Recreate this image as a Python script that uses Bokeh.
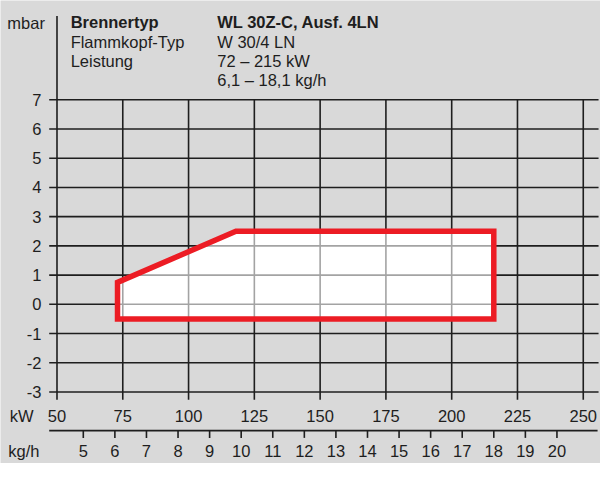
import numpy as np
from bokeh.plotting import figure
from bokeh.models import Range1d
from bokeh.core.properties import value
from bokeh.embed import file_html
from bokeh.resources import INLINE

# ---- data ----
kw_ticks = [50, 75, 100, 125, 150, 175, 200, 225, 250]
mbar_ticks = [-3, -2, -1, 0, 1, 2, 3, 4, 5, 6, 7]
kgh_ticks = [5, 6, 7, 8, 9, 10, 11, 12, 13, 14, 15, 16, 17, 18, 19, 20]
kw_per_kgh = 12.0
field_kw = [73, 73, 118, 216, 216]
field_mbar = [-0.5, 0.75, 2.5, 2.5, -0.5]
header_left = ["Brennertyp", "Flammkopf-Typ", "Leistung", ""]
header_right = ["WL 30Z-C, Ausf. 4LN", "W 30/4 LN", "72 – 215 kW", "6,1 – 18,1 kg/h"]

# ---- layout helpers (reference px -> data) ----
PXK = 2.7015   # px per kW (reference scale)
PXM = 30.23    # px per mbar (reference scale)
def kx(px):
    return 50 + (px - 58) / PXK
def my(py):
    return 7 - (py - 102.7) / PXM

W, H = 600, 463
p = figure(width=W, height=H, output_backend="svg", toolbar_location=None,
           x_range=Range1d(kx(0), kx(616)), y_range=Range1d(my(479), my(0)),
           min_border=0, min_border_left=0, min_border_right=0,
           min_border_top=0, min_border_bottom=0)
p.axis.visible = False
p.grid.visible = False
p.outline_line_color = None
BG = "#d9d9d9"
p.background_fill_color = BG
p.border_fill_color = BG

DARK = "#1e1e1e"
FONT = value("Liberation Sans")
FS = "16.5px"
TXT = dict(text_font=FONT, text_font_size=FS, text_color=DARK, text_baseline="middle")

# horizontal grid lines (with left tick stubs)
p.segment(x0=[kx(50)] * len(mbar_ticks), y0=mbar_ticks,
          x1=[kx(614)] * len(mbar_ticks), y1=mbar_ticks,
          line_color=DARK, line_width=1.6)
# vertical grid lines (with bottom ticks)
vt = kw_ticks[1:]
p.segment(x0=vt, y0=[7] * len(vt), x1=vt, y1=[my(413)] * len(vt),
          line_color=DARK, line_width=1.6)
# left axis line
p.segment(x0=[50], y0=[my(16)], x1=[50], y1=[my(413)], line_color=DARK, line_width=1.6)

# working field
p.patch(field_kw, field_mbar, fill_color="white", line_color=None)
# light grid inside field
top_x = [field_kw[1], field_kw[2], field_kw[3]]
top_y = [field_mbar[1], field_mbar[2], field_mbar[3]]
ivx = [k for k in kw_ticks if field_kw[0] < k < field_kw[3]]
ivtop = [float(np.interp(k, top_x, top_y)) for k in ivx]
p.segment(x0=ivx, y0=[field_mbar[0]] * len(ivx), x1=ivx, y1=ivtop,
          line_color="#a3a3a3", line_width=1.6)
ihy = [m for m in mbar_ticks if field_mbar[0] < m < field_mbar[2]]
ihx0 = [float(np.interp(m, top_y[:2], top_x[:2])) if m > field_mbar[1] else field_kw[0] for m in ihy]
p.segment(x0=ihx0, y0=ihy, x1=[field_kw[3]] * len(ihy), y1=ihy,
          line_color="#a3a3a3", line_width=1.6)
p.patch(field_kw, field_mbar, fill_color=None, line_color="#ec1c24",
        line_width=5.5, line_join="miter")

# y tick labels
p.text(x=[kx(42)] * len(mbar_ticks), y=mbar_ticks, text=[str(m) for m in mbar_ticks],
       text_align="right", **TXT)
# kW tick labels
p.text(x=kw_ticks, y=[my(430)] * len(kw_ticks), text=[str(k) for k in kw_ticks],
       text_align="center", **TXT)
p.text(x=[kx(34)], y=[my(430)], text=["kW"], text_align="right", **TXT)

# kg/h axis
kg_x = [k * kw_per_kgh for k in kgh_ticks]
p.segment(x0=[kx(50)], y0=[my(445)], x1=[kx(613)], y1=[my(445)], line_color=DARK, line_width=1.6)
p.segment(x0=kg_x, y0=[my(445)] * len(kg_x), x1=kg_x, y1=[my(452.5)] * len(kg_x),
          line_color=DARK, line_width=1.6)
p.text(x=kg_x, y=[my(466.5)] * len(kg_x), text=[str(k) for k in kgh_ticks],
       text_align="center", **TXT)
p.text(x=[kx(40)], y=[my(466.5)], text=["kg/h"], text_align="right", **TXT)

# header
p.text(x=[kx(7)], y=[my(23)], text=["mbar"], text_align="left", **TXT)
base_y = [my(22.5 + 20 * i) for i in range(4)]
styles = ["bold", "normal", "normal", "normal"]
for i in range(4):
    if header_left[i]:
        p.text(x=[kx(72)], y=[base_y[i]], text=[header_left[i]], text_align="left",
               text_font_style=styles[i], **TXT)
    p.text(x=[kx(222.5)], y=[base_y[i]], text=[header_right[i]], text_align="left",
           text_font_style=styles[i], **TXT)

open("out.html", "w").write(file_html(p, INLINE))
